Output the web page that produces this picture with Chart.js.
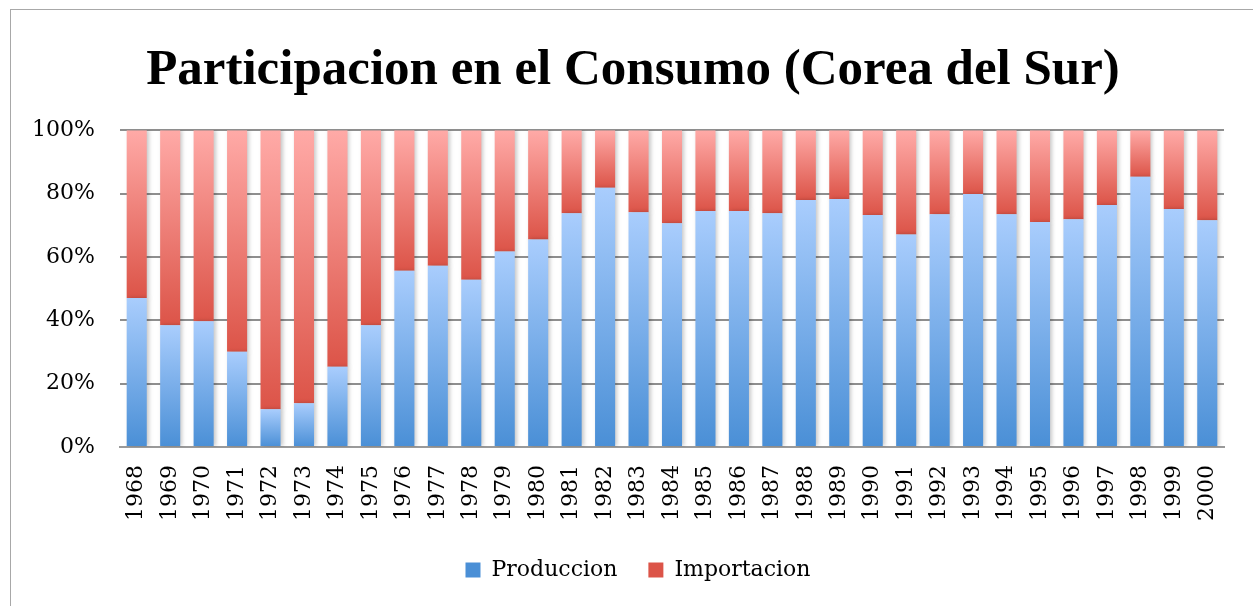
<!DOCTYPE html>
<html>
<head>
<meta charset="utf-8">
<script src="https://cdn.jsdelivr.net/npm/chart.js@4/dist/chart.umd.min.js"></script>
<style>
  html, body { margin: 0; padding: 0; background: #fff; overflow: hidden; }
  #wrap { position: relative; width: 1253px; height: 606px; }
  #frame { position: absolute; left: 10px; top: 9px; width: 1300px; height: 700px;
           border: 1px solid #a8a8a8; pointer-events: none; }
</style>
</head>
<body>
<div id="wrap">
  <canvas id="grafico" width="1253" height="606"></canvas>
  <div id="frame"></div>
</div>
<script>
// Datos
const anios = ['1968','1969','1970','1971','1972','1973','1974','1975','1976','1977','1978',
  '1979','1980','1981','1982','1983','1984','1985','1986','1987','1988','1989','1990','1991',
  '1992','1993','1994','1995','1996','1997','1998','1999','2000'];

const produccion = [47.0, 38.4, 39.7, 30.1, 11.9, 13.8, 25.3, 38.4, 55.6, 57.2, 52.8,
  61.7, 65.5, 73.8, 81.8, 74.1, 70.6, 74.5, 74.5, 73.8, 78.0, 78.3, 73.2, 67.1,
  73.5, 79.9, 73.5, 71.0, 71.9, 76.4, 85.3, 75.1, 71.6];

const importacion = [53.0, 61.6, 60.3, 69.9, 88.1, 86.2, 74.7, 61.6, 44.4, 42.8, 47.2,
  38.3, 34.5, 26.2, 18.2, 25.9, 29.4, 25.5, 25.5, 26.2, 22.0, 21.7, 26.8, 32.9,
  26.5, 20.1, 26.5, 29.0, 28.1, 23.6, 14.7, 24.9, 28.4];

const ticksY = ['0%', '20%', '40%', '60%', '80%', '100%'];

// Degradado vertical para cada segmento de barra
function degradado(context, claro, oscuro, medio) {
    const chart = context.chart;
    if (!chart.chartArea || context.type !== 'data') return medio;
    const y = chart.scales.y;
    const i = context.dataIndex;
    let arriba, abajo;
    if (context.datasetIndex === 0) {
        arriba = y.getPixelForValue(produccion[i]);
        abajo = y.getPixelForValue(0);
    } else {
        arriba = y.getPixelForValue(produccion[i] + importacion[i]);
        abajo = y.getPixelForValue(produccion[i]);
    }
    const g = chart.ctx.createLinearGradient(0, arriba, 0, abajo);
    g.addColorStop(0, claro);
    g.addColorStop(1, oscuro);
    return g;
}

// Sombra suave detrás de las barras
const sombra = {
    id: 'sombra',
    beforeDatasetsDraw(chart) {
        const c = chart.ctx;
        c.save();
        c.shadowColor = 'rgba(0,0,0,0.22)';
        c.shadowBlur = 4;
        c.shadowOffsetX = 2;
        c.shadowOffsetY = 0;
    },
    afterDatasetsDraw(chart) {
        chart.ctx.restore();
    }
};

// Centrar título y leyenda como en el original
const centrado = {
    id: 'centrado',
    afterLayout(chart) {
        if (chart.titleBlock) chart.titleBlock.left += 42;
        if (chart.legend) chart.legend.left += 52;
    }
};

const serif = "'DejaVu Serif', serif";

new Chart(document.getElementById('grafico').getContext('2d'), {
    type: 'bar',
    data: {
        labels: anios,
        datasets: [{
            label: 'Produccion   ',
            data: produccion,
            backgroundColor: ctx => degradado(ctx, '#a9cdfd', '#4a8fd6', '#7eb0ec'),
            barPercentage: 0.6,
            categoryPercentage: 1.0
        }, {
            label: 'Importacion',
            data: importacion,
            backgroundColor: ctx => degradado(ctx, '#ffaaa7', '#dc5448', '#ee847d'),
            barPercentage: 0.6,
            categoryPercentage: 1.0
        }]
    },
    options: {
        responsive: false,
        animation: false,
        layout: { padding: { left: 0, right: 29, top: 0, bottom: 15 } },
        plugins: {
            title: {
                display: true,
                text: 'Participacion en el Consumo (Corea del Sur)',
                color: '#000',
                font: { family: "'Liberation Serif', serif", size: 51, weight: 'bold' },
                padding: { top: 40, bottom: 29 }
            },
            legend: {
                position: 'bottom',
                labels: {
                    color: '#000',
                    font: { family: serif, size: 22 },
                    boxWidth: 15,
                    boxHeight: 15,
                    padding: 10
                }
            },
            tooltip: { enabled: false }
        },
        scales: {
            x: {
                stacked: true,
                afterFit: s => { s.height = 102; },
                grid: { display: false, drawTicks: false },
                border: { display: true, color: '#9a9a9a', width: 2 },
                ticks: {
                    color: '#000',
                    font: { family: serif, size: 22 },
                    autoSkip: false,
                    minRotation: 90,
                    maxRotation: 90,
                    padding: 18
                }
            },
            y: {
                stacked: true,
                min: 0,
                max: 100,
                afterFit: s => { s.width = 120; },
                grid: { color: '#8e8e8e', lineWidth: 2, drawTicks: false },
                border: { display: false },
                ticks: {
                    stepSize: 20,
                    color: '#000',
                    font: { family: serif, size: 22 },
                    padding: 25,
                    callback: (v) => ticksY[v / 20]
                }
            }
        }
    },
    plugins: [sombra, centrado]
});
</script>
</body>
</html>
